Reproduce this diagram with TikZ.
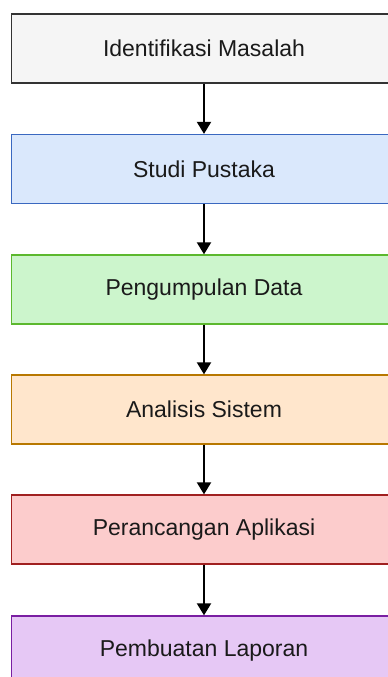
\documentclass[tikz,border=0pt]{standalone}
\usepackage{fontspec}
\setmainfont{Liberation Sans}
\usetikzlibrary{positioning, arrows.meta}

\definecolor{grayfill}{HTML}{F5F5F5}
\definecolor{graydraw}{HTML}{333333}
\definecolor{bluefill}{HTML}{DAE8FC}
\definecolor{bluedraw}{HTML}{3A68C0}
\definecolor{greenfill}{HTML}{CCF5CC}
\definecolor{greendraw}{HTML}{5CB82E}
\definecolor{orangefill}{HTML}{FFE6CC}
\definecolor{orangedraw}{HTML}{B87800}
\definecolor{redfill}{HTML}{FCCCCC}
\definecolor{reddraw}{HTML}{A02020}
\definecolor{purplefill}{HTML}{E6C8F5}
\definecolor{purpledraw}{HTML}{7A1FA2}
\definecolor{txt}{HTML}{1A1A1A}

\begin{document}
\begin{tikzpicture}[x=1pt, y=-1pt, >={Triangle[width=14pt, length=12pt]},
    stepbox/.style={draw, line width=1.3pt, minimum width=385pt, minimum height=69pt,
      text=txt, font=\fontsize{23}{27}\selectfont}]
  \useasboundingbox (0,0) rectangle (388,677);
  \clip (0,0) rectangle (388,677);
  \node [stepbox, fill=grayfill, draw=graydraw] (idm) at (204,48.5) {Identifikasi Masalah};
  \node [stepbox, fill=bluefill, draw=bluedraw] (stp) at (204,169) {Studi Pustaka};
  \node [stepbox, fill=greenfill, draw=greendraw] (pgd) at (204,289.5) {Pengumpulan Data};
  \node [stepbox, fill=orangefill, draw=orangedraw] (ans) at (204,409.5) {Analisis Sistem};
  \node [stepbox, fill=redfill, draw=reddraw] (pra) at (204,529.5) {Perancangan Aplikasi};
  \node [stepbox, fill=purplefill, draw=purpledraw] (pbl) at (204,650.5) {Pembuatan Laporan};
  \draw [line width=2pt, ->] (idm) -- (stp);
  \draw [line width=2pt, ->] (stp) -- (pgd);
  \draw [line width=2pt, ->] (pgd) -- (ans);
  \draw [line width=2pt, ->] (ans) -- (pra);
  \draw [line width=2pt, ->] (pra) -- (pbl);
\end{tikzpicture}
\end{document}
